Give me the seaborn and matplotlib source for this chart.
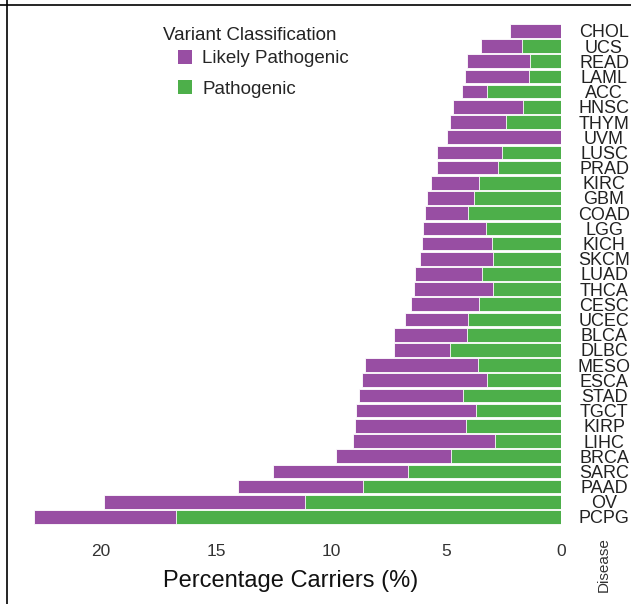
import matplotlib
matplotlib.use("Agg")
import matplotlib.pyplot as plt
import seaborn as sns
import pandas as pd
from matplotlib.patches import Patch
from matplotlib.lines import Line2D

# data (percentage of carriers per disease)
diseases = ["CHOL", "UCS", "READ", "LAML", "ACC", "HNSC", "THYM", "UVM", "LUSC",
            "PRAD", "KIRC", "GBM", "COAD", "LGG", "KICH", "SKCM", "LUAD", "THCA",
            "CESC", "UCEC", "BLCA", "DLBC", "MESO", "ESCA", "STAD", "TGCT", "KIRP",
            "LIHC", "BRCA", "SARC", "PAAD", "OV", "PCPG"]
pathogenic = [0.0, 1.71, 1.33, 1.39, 3.23, 1.67, 2.39, 0.0, 2.58,
              2.75, 3.56, 3.80, 4.03, 3.26, 3.00, 2.94, 3.45, 2.96,
              3.56, 4.03, 4.09, 4.84, 3.62, 3.23, 4.25, 3.71, 4.12,
              2.88, 4.78, 6.64, 8.60, 11.13, 16.73]
likely_pathogenic = [2.20, 1.76, 2.77, 2.80, 1.07, 3.04, 2.45, 4.97, 2.80,
                     2.64, 2.09, 2.01, 1.90, 2.73, 3.03, 3.19, 2.88, 3.42,
                     2.96, 2.75, 3.16, 2.44, 4.89, 5.42, 4.52, 5.20, 4.85,
                     6.15, 5.02, 5.87, 5.43, 8.75, 6.17]
x_ticks = [0, 5, 10, 15, 20]

purple = "#984EA3"
green = "#4DAF4A"

df = pd.DataFrame({"Disease": diseases,
                   "Pathogenic": pathogenic,
                   "Likely Pathogenic": likely_pathogenic})
df["Total"] = df["Pathogenic"] + df["Likely Pathogenic"]

sns.set_style("white")
plt.rcParams["font.family"] = ["Liberation Sans", "DejaVu Sans"]

W, H = 631, 604
fig = plt.figure(figsize=(W / 100, H / 100), dpi=100)
ax = fig.add_axes([20.5 / W, 1 - 527.6 / H, (561 - 20.5) / W, (527.6 - 23.3) / H])

# stacked: total (purple) underneath, pathogenic (green) on top
sns.barplot(data=df, x="Total", y="Disease", orient="h", color=purple,
            saturation=1, width=0.9, edgecolor="white", linewidth=0.6,
            errorbar=None, ax=ax)
sns.barplot(data=df, x="Pathogenic", y="Disease", orient="h", color=green,
            saturation=1, width=0.9, edgecolor="white", linewidth=0.6,
            errorbar=None, ax=ax)

ax.set_xlim(23.5, 0)
ax.set_ylim(32.7, -0.5)
ax.set_xticks(x_ticks)
ax.set_xticklabels([str(t) for t in x_ticks])
for s in ax.spines.values():
    s.set_visible(False)

ax.tick_params(axis="x", length=2.5, width=0.8, color="#999999",
               labelsize=12.5, labelcolor="#333333", pad=9)
ax.yaxis.tick_right()
ax.tick_params(axis="y", length=0, pad=31, labelsize=13, labelcolor="#222222")
for lbl in ax.get_yticklabels():
    lbl.set_ha("center")

ax.set_ylabel("")
ax.set_xlabel("Percentage Carriers (%)", fontsize=17, color="#111111", labelpad=8)
fig.text(604 / W, 1 - 565 / H, "Disease", rotation=90, ha="center", va="center",
         fontsize=11, color="#333333")

# legend
fig.text(163 / W, 1 - 35.5 / H, "Variant Classification", ha="left", va="center",
         fontsize=13.5, color="#222222")
handles = [Patch(facecolor=purple, edgecolor="none", label="Likely Pathogenic"),
           Patch(facecolor=green, edgecolor="none", label="Pathogenic")]
ax.legend(handles=handles, loc="upper left", bbox_to_anchor=(178 / W, 1 - 50 / H),
          bbox_transform=fig.transFigure, frameon=False, fontsize=13.5,
          handlelength=0.75, handleheight=0.75, handletextpad=0.55,
          labelspacing=0.68, borderpad=0, borderaxespad=0)

# screenshot border lines (top and left)
fig.add_artist(Line2D([0, 1], [1 - 5 / H] * 2, transform=fig.transFigure,
                      color="black", lw=1.2))
fig.add_artist(Line2D([7 / W] * 2, [0, 1], transform=fig.transFigure,
                      color="black", lw=1.2))

fig.savefig("out.png", dpi=100, facecolor="white")
